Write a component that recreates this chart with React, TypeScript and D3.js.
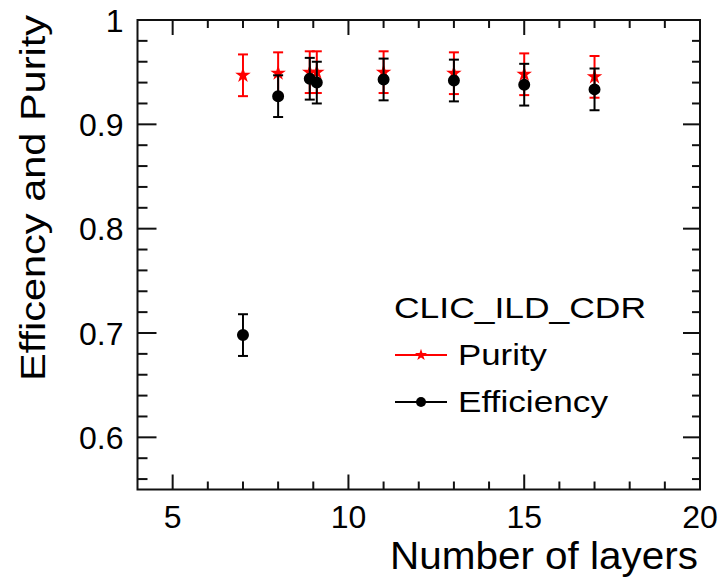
import React from 'react';
import * as d3 from 'd3';

// number of layers per configuration
const layers = [7, 8, 8.9, 9.1, 11, 13, 15, 17];
const purity = [0.947, 0.949, 0.95, 0.95, 0.95, 0.949, 0.948, 0.9455];
const purityErr = [0.02, 0.02, 0.02, 0.02, 0.02, 0.02, 0.02, 0.02];
const efficiency = [0.698, 0.927, 0.9437, 0.94, 0.943, 0.942, 0.938, 0.9335];
const efficiencyErr = [0.02, 0.02, 0.02, 0.02, 0.02, 0.02, 0.02, 0.02];

const xTickLabels = [5, 10, 15, 20];
const yTickLabels = [0.6, 0.7, 0.8, 0.9, 1];
const legendTitle = 'CLIC_ILD_CDR';

const W = 722;
const H = 579;
const FONT = '"Liberation Sans", Arial, Helvetica, sans-serif';

const x = d3.scaleLinear().domain([4, 20]).range([137.5, 700]);
const y = d3.scaleLinear().domain([0.55, 1]).range([489.5, 20]);

const star = d3.symbol().type(d3.symbolStar);
const circle = d3.symbol().type(d3.symbolCircle);

function ErrorBars({xs, ys, errs, color}) {
  return (
    <g stroke={color} strokeWidth={2} fill="none">
      {xs.map((xv, i) => {
        const cx = x(xv);
        const top = y(ys[i] + errs[i]);
        const bot = y(ys[i] - errs[i]);
        return (
          <g key={i}>
            <line x1={cx} x2={cx} y1={top} y2={bot} />
            <line x1={cx - 5} x2={cx + 5} y1={top} y2={top} />
            <line x1={cx - 5} x2={cx + 5} y1={bot} y2={bot} />
          </g>
        );
      })}
    </g>
  );
}

export default function App() {
  const xMinor = d3.range(5, 20, 1);
  const yMinor = d3.range(0.56, 0.999, 0.02);
  const left = x.range()[0];
  const right = x.range()[1];
  const top = y.range()[1];
  const bottom = y.range()[0];

  return (
    <svg
      width={W}
      height={H}
      style={{position: 'absolute', left: 0, top: 0, background: 'white'}}
      fontFamily={FONT}>
      {/* ticks, drawn inward on all four sides */}
      <g stroke="#111" strokeWidth={2}>
        {xMinor.map(v => {
          const len = v % 5 === 0 ? 15 : 8;
          return (
            <g key={'xt' + v}>
              <line x1={x(v)} x2={x(v)} y1={bottom} y2={bottom - len} />
              <line x1={x(v)} x2={x(v)} y1={top} y2={top + len} />
            </g>
          );
        })}
        {yMinor.map((v, i) => {
          const major = Math.abs(v * 10 - Math.round(v * 10)) < 1e-6;
          return (
            <g key={'yt' + i}>
              <line x1={left} x2={left + (major ? 19 : 10)} y1={y(v)} y2={y(v)} />
              <line x1={right} x2={right - (major ? 17 : 8)} y1={y(v)} y2={y(v)} />
            </g>
          );
        })}
      </g>
      <rect
        x={left}
        y={top}
        width={right - left}
        height={bottom - top}
        fill="none"
        stroke="#111"
        strokeWidth={2}
      />

      {/* tick labels */}
      <g fontSize={32} fill="#000">
        {xTickLabels.map(v => (
          <text key={'xl' + v} x={x(v)} y={528} textAnchor="middle">
            {v}
          </text>
        ))}
        {yTickLabels.map(v => (
          <text key={'yl' + v} x={123.5} y={y(v) + 11.5} textAnchor="end">
            {v}
          </text>
        ))}
      </g>

      {/* axis titles */}
      <text
        x={698}
        y={569}
        textAnchor="end"
        fontSize={38}
        textLength={308}
        lengthAdjust="spacingAndGlyphs">
        Number of layers
      </text>
      <text
        transform={'translate(45,198) rotate(-90)'}
        textAnchor="middle"
        fontSize={35}
        textLength={366}
        lengthAdjust="spacingAndGlyphs">
        Efficency and Purity
      </text>

      {/* purity first, efficiency drawn over it */}
      <ErrorBars xs={layers} ys={purity} errs={purityErr} color="#ff0000" />
      {layers.map((v, i) => (
        <path
          key={'p' + i}
          d={star.size(75)()}
          transform={`translate(${x(v)},${y(purity[i])})`}
          fill="#ff0000"
        />
      ))}
      <ErrorBars xs={layers} ys={efficiency} errs={efficiencyErr} color="#000" />
      {layers.map((v, i) => (
        <path
          key={'e' + i}
          d={circle.size(113)()}
          transform={`translate(${x(v)},${y(efficiency[i])})`}
          fill="#000"
        />
      ))}

      {/* legend */}
      <text x={394} y={318} fontSize={30} textLength={252} lengthAdjust="spacingAndGlyphs">
        {legendTitle}
      </text>
      <line x1={395} x2={447} y1={355} y2={355} stroke="#ff0000" strokeWidth={2} />
      <path d={star.size(45)()} transform="translate(421,355)" fill="#ff0000" />
      <text x={458} y={365} fontSize={30} textLength={89} lengthAdjust="spacingAndGlyphs">
        Purity
      </text>
      <line x1={395} x2={447} y1={402} y2={402} stroke="#000" strokeWidth={2} />
      <path d={circle.size(78)()} transform="translate(421,402)" fill="#000" />
      <text x={458} y={412} fontSize={30} textLength={150} lengthAdjust="spacingAndGlyphs">
        Efficiency
      </text>
    </svg>
  );
}
